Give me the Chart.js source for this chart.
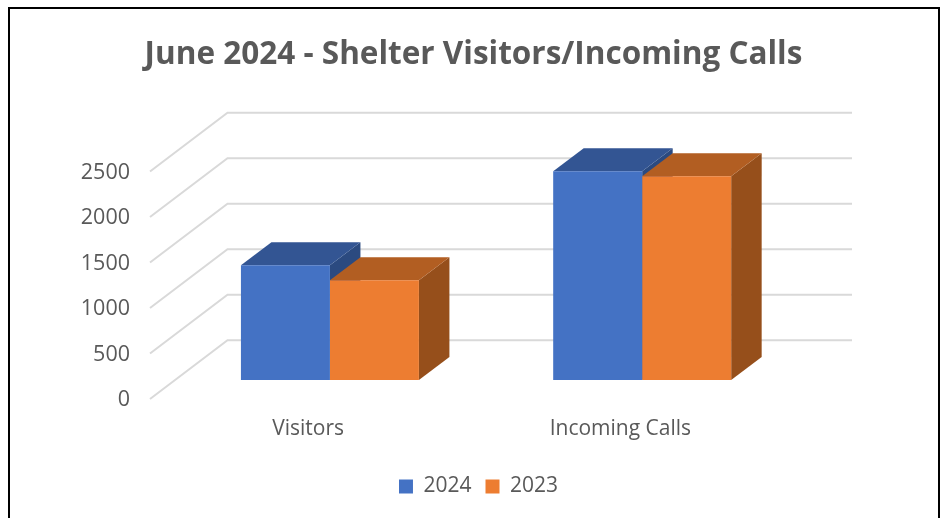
<!DOCTYPE html>
<html>
<head>
<meta charset="utf-8">
<script src="https://cdn.jsdelivr.net/npm/chart.js@4/dist/chart.umd.min.js"></script>
<style>
html,body{margin:0;padding:0;background:#fff;overflow:hidden}
#frame{position:absolute;left:8px;top:7px;width:928px;height:511px;border:2px solid #000;border-bottom:none}
canvas{position:absolute;left:0;top:0}
</style>
</head>
<body>
<div id="frame"></div>
<canvas id="c" width="942" height="518"></canvas>
<script>
const categories = ['Visitors', 'Incoming Calls'];
const series2024 = [1260, 2295];
const series2023 = [1095, 2240];
const yMax = 2500;
const yStep = 500;
const titleText = 'June 2024 - Shelter Visitors/Incoming Calls';
const textColor = '#595959';
const gridColor = '#D9D9D9';
const colors2024 = {front:'#4472C4', top:'#335593', side:'#2B4A80'};
const colors2023 = {front:'#ED7D31', top:'#B25E22', side:'#964F1B'};
const wall = {dx:77.5, dy:-58.7};
const barShift = {dx:23.8, dy:-19};
const barDepth = {dx:30.5, dy:-23};
const FONT = '"Open Sans", sans-serif';

const threeD = {
  id:'threeD',
  afterLayout(chart){ chart.legend.left += 5; chart.legend.right += 5; },
  beforeDatasetsDraw(chart){
    const {ctx, scales:{x,y}} = chart;
    ctx.save();
    ctx.strokeStyle = gridColor; ctx.lineWidth = 2; ctx.lineJoin='miter';
    for(let v=0;v<=yMax;v+=yStep){
      const py=y.getPixelForValue(v);
      ctx.beginPath();
      ctx.moveTo(x.left,py);
      ctx.lineTo(x.left+wall.dx,py+wall.dy);
      ctx.lineTo(x.right+wall.dx,py+wall.dy);
      ctx.stroke();
    }
    [colors2024,colors2023].forEach((col,i)=>{
      chart.getDatasetMeta(i).data.forEach(b=>{
        const p=b.getProps(['x','y','base','width'],true);
        const l=p.x-p.width/2+barShift.dx, r=p.x+p.width/2+barShift.dx;
        const t=p.y+barShift.dy, bt=p.base+barShift.dy;
        const dx=barDepth.dx, dy=barDepth.dy;
        ctx.fillStyle=col.side;
        ctx.beginPath();ctx.moveTo(r,t);ctx.lineTo(r+dx,t+dy);ctx.lineTo(r+dx,bt+dy);ctx.lineTo(r,bt);ctx.closePath();ctx.fill();
        ctx.fillStyle=col.top;
        ctx.beginPath();ctx.moveTo(l,t);ctx.lineTo(l+dx,t+dy);ctx.lineTo(r+dx,t+dy);ctx.lineTo(r,t);ctx.closePath();ctx.fill();
      });
    });
    ctx.restore();
    ctx.save();
    ctx.translate(barShift.dx,barShift.dy);
  },
  afterDatasetsDraw(chart){ chart.ctx.restore(); }
};

new Chart(document.getElementById('c'),{
  type:'bar',
  data:{labels:categories,datasets:[
    {label:'2024',data:series2024,backgroundColor:colors2024.front,clip:false},
    {label:'2023',data:series2023,backgroundColor:colors2023.front,clip:false}
  ]},
  options:{
    responsive:false,animation:false,
    layout:{padding:{left:5,right:0,top:0,bottom:11}},
    datasets:{bar:{barPercentage:1,categoryPercentage:0.57}},
    plugins:{
      tooltip:{enabled:false},
      title:{display:true,text:titleText,color:textColor,font:{family:FONT,size:31.5,weight:'bold'},padding:{top:36.5,bottom:97.2}},
      legend:{position:'bottom',labels:{color:textColor,font:{family:FONT,size:21},boxWidth:14,boxHeight:14,padding:14}}
    },
    scales:{
      x:{grid:{display:false},border:{display:false},
         ticks:{color:textColor,font:{family:FONT,size:21},padding:9,labelOffset:2,maxRotation:0},
         afterFit(s){s.height=63;}},
      y:{min:0,max:yMax,grid:{display:false},border:{display:false},
         ticks:{stepSize:yStep,color:textColor,font:{family:FONT,size:21.5},padding:12,labelOffset:1,callback:v=>String(v)},
         afterFit(s){s.width=145;}},
      r2:{type:'linear',position:'right',display:true,grid:{display:false},border:{display:false},ticks:{display:false},afterFit(s){s.width=167.5;}}
    }
  },
  plugins:[threeD]
});
</script>
</body>
</html>
